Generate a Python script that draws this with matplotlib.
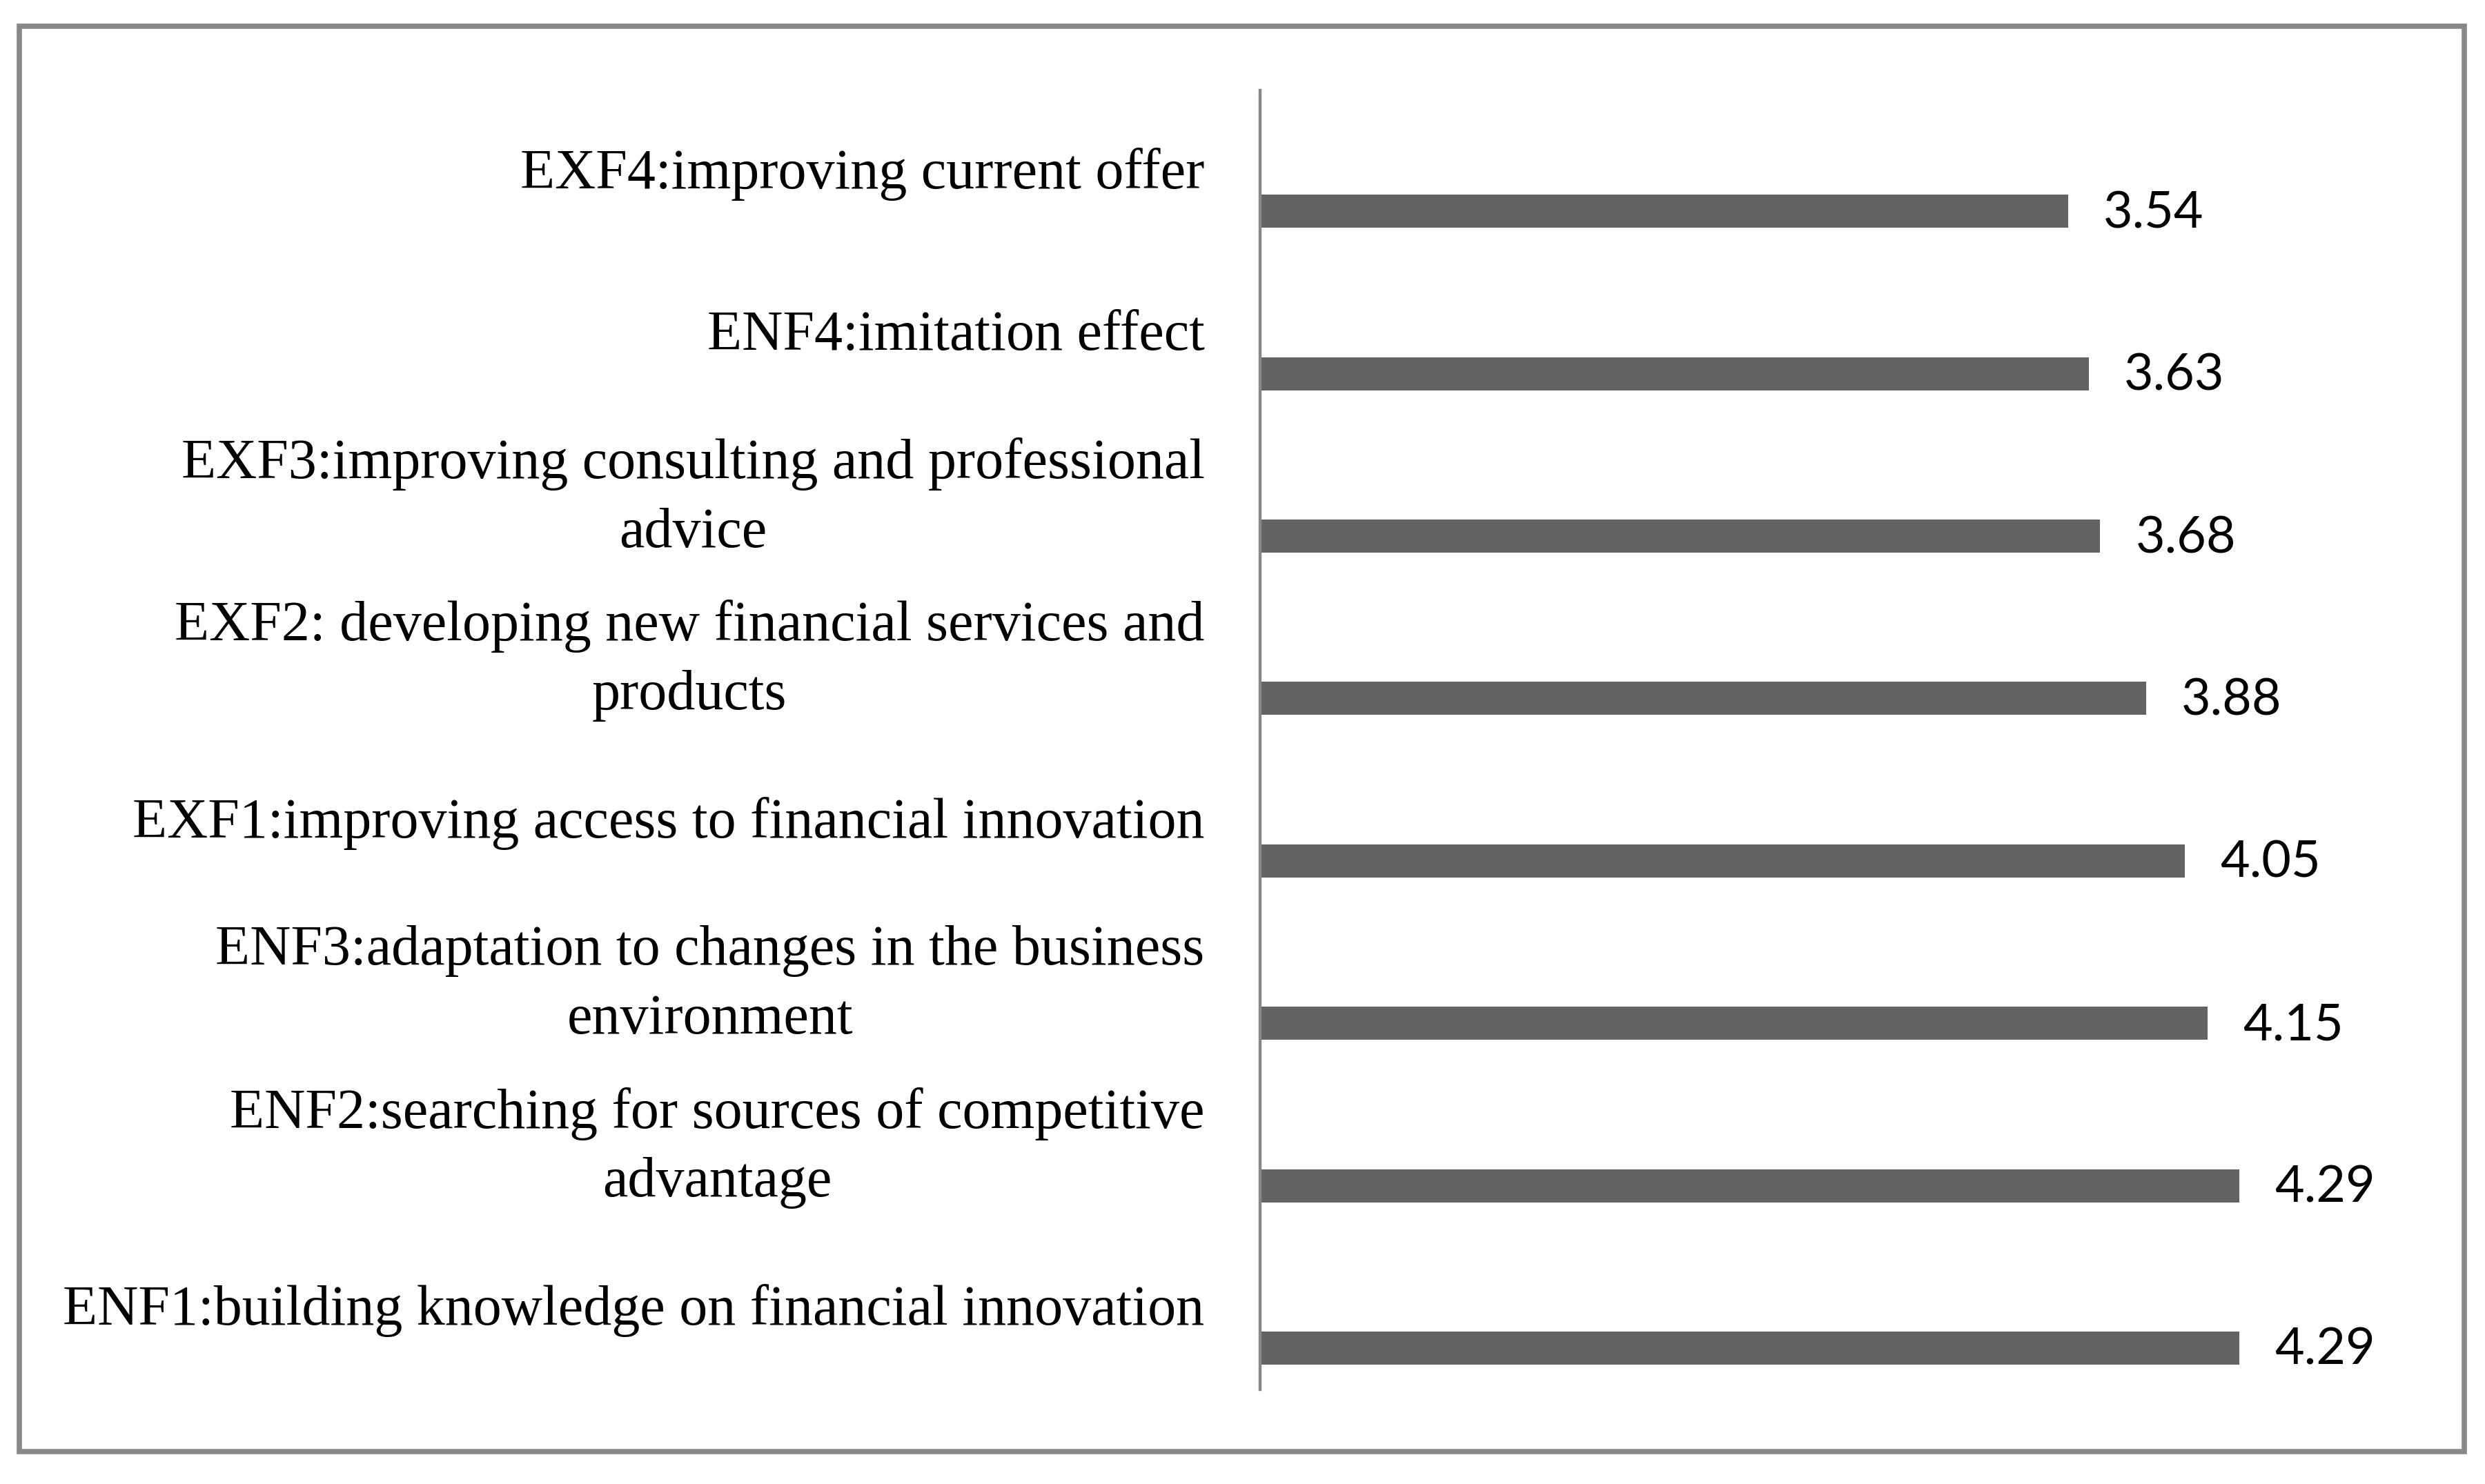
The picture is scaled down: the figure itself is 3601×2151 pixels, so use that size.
import numpy as np
import matplotlib.pyplot as plt
from matplotlib.patches import Rectangle
from matplotlib.transforms import ScaledTranslation

# categories from bottom to top
labels = [
    "ENF1:building knowledge on financial innovation",
    "ENF2:searching for sources of competitive\nadvantage",
    "ENF3:adaptation to changes in the business\nenvironment",
    "EXF1:improving access to financial innovation",
    "EXF2: developing new financial services and\nproducts",
    "EXF3:improving consulting and professional\nadvice",
    "ENF4:imitation effect",
    "EXF4:improving current offer",
]
values = [4.29, 4.29, 4.15, 4.05, 3.88, 3.68, 3.63, 3.54]
value_text = ["4.29", "4.29", "4.15", "4.05", "3.88", "3.68", "3.63", "3.54"]


def main():
    fig = plt.figure(figsize=(36.01, 21.51), dpi=100)
    ax = fig.add_axes([0.5071, 0.0637, 0.4593, 0.8754])

    y = np.arange(len(labels))
    bar_offset = 0.245
    ax.barh(y - bar_offset, values, height=0.204, color="#636363", zorder=2)

    for yi, v, s in zip(y, values, value_text):
        ax.text(v + 0.155, yi - bar_offset - 0.015, s, va="center", ha="left",
                fontsize=53, family="Lato", color="black")

    ax.set_yticks(y)
    ax.set_yticklabels(labels, fontsize=59, family="Liberation Serif",
                       multialignment="center", linespacing=1.42)
    ax.tick_params(axis="y", length=0, pad=58)
    # nudge the labels up a little (two-line ones a bit more)
    for lab, txt in zip(ax.get_yticklabels(), labels):
        dy = 4 if "\n" not in txt else 13
        shift = ScaledTranslation(0, dy / 72, fig.dpi_scale_trans)
        lab.set_transform(lab.get_transform() + shift)
    ax.set_ylim(-0.5, len(labels) - 0.5)
    ax.set_xlim(0, 5)
    ax.set_xticks([])

    for side in ["top", "right", "bottom"]:
        ax.spines[side].set_visible(False)
    ax.spines["left"].set_color("#888888")
    ax.spines["left"].set_linewidth(3.2)

    # frame around the whole chart
    fig.patches.append(Rectangle((28 / 3601, 1 - 2104 / 2151),
                                 (3571 - 28) / 3601, (2104 - 38) / 2151,
                                 transform=fig.transFigure, fill=False,
                                 edgecolor="#888888", linewidth=5.5))

    fig.savefig("out.png", dpi=100)


if __name__ == "__main__":
    main()
